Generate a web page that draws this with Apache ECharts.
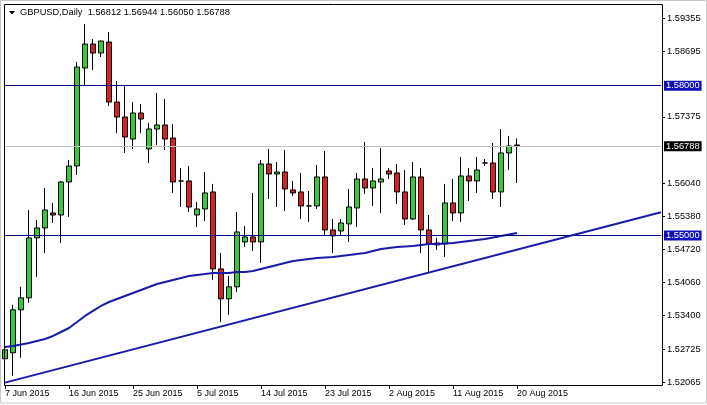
<!DOCTYPE html>
<html>
<head>
<meta charset="utf-8">
<title>GBPUSD Daily</title>
<script src="https://cdn.jsdelivr.net/npm/echarts@6.0.0/dist/echarts.min.js"></script>
<style>
  html, body { margin: 0; padding: 0; background: #ffffff; }
  #main { width: 707px; height: 405px; }
</style>
</head>
<body>
<div id="main"></div>
<script>
// daily bars (broker has sunday sessions)
const dates = [
  '7 Jun 2015', '8 Jun 2015', '9 Jun 2015', '10 Jun 2015', '11 Jun 2015', '12 Jun 2015',
  '14 Jun 2015', '15 Jun 2015', '16 Jun 2015', '17 Jun 2015', '18 Jun 2015', '19 Jun 2015',
  '21 Jun 2015', '22 Jun 2015', '23 Jun 2015', '24 Jun 2015', '25 Jun 2015', '26 Jun 2015',
  '28 Jun 2015', '29 Jun 2015', '30 Jun 2015', '1 Jul 2015', '2 Jul 2015', '3 Jul 2015',
  '5 Jul 2015', '6 Jul 2015', '7 Jul 2015', '8 Jul 2015', '9 Jul 2015', '10 Jul 2015',
  '12 Jul 2015', '13 Jul 2015', '14 Jul 2015', '15 Jul 2015', '16 Jul 2015', '17 Jul 2015',
  '19 Jul 2015', '20 Jul 2015', '21 Jul 2015', '22 Jul 2015', '23 Jul 2015', '24 Jul 2015',
  '26 Jul 2015', '27 Jul 2015', '28 Jul 2015', '29 Jul 2015', '30 Jul 2015', '31 Jul 2015',
  '2 Aug 2015', '3 Aug 2015', '4 Aug 2015', '5 Aug 2015', '6 Aug 2015', '7 Aug 2015',
  '9 Aug 2015', '10 Aug 2015', '11 Aug 2015', '12 Aug 2015', '13 Aug 2015', '14 Aug 2015',
  '16 Aug 2015', '17 Aug 2015', '18 Aug 2015', '19 Aug 2015', '20 Aug 2015'
];

const opens = [
  1.52530, 1.52650, 1.53510, 1.53750, 1.54950, 1.55150, 1.55450, 1.55410, 1.56071, 1.56391,
  1.58354, 1.58834, 1.58654, 1.58874, 1.57672, 1.57372, 1.56932, 1.57452, 1.56732, 1.57132,
  1.57212, 1.56952, 1.56091, 1.56091, 1.55410, 1.55530, 1.55871, 1.54330, 1.53730, 1.53970,
  1.54870, 1.54970, 1.54870, 1.56431, 1.56231, 1.56271, 1.55911, 1.55871, 1.55590, 1.55590,
  1.56171, 1.55110, 1.55090, 1.55230, 1.55550, 1.56131, 1.55951, 1.56071, 1.56291, 1.56251,
  1.55871, 1.55330, 1.56171, 1.55110, 1.54850, 1.54830, 1.55651, 1.55450, 1.56191, 1.56091,
  1.56451, 1.56451, 1.55871, 1.56652, 1.56812
];
const highs = [
  1.52790, 1.53610, 1.53970, 1.55510, 1.55310, 1.55951, 1.55651, 1.56091, 1.56511, 1.58474,
  1.59235, 1.58934, 1.58904, 1.59075, 1.58093, 1.57993, 1.57672, 1.57632, 1.57252, 1.57853,
  1.57733, 1.57232, 1.56351, 1.56391, 1.55671, 1.56271, 1.56031, 1.54650, 1.54190, 1.55470,
  1.55190, 1.55851, 1.56511, 1.56732, 1.56471, 1.56712, 1.56091, 1.56251, 1.55891, 1.56411,
  1.56692, 1.55330, 1.55330, 1.55931, 1.56251, 1.56872, 1.56351, 1.56752, 1.56351, 1.56431,
  1.56311, 1.56471, 1.56351, 1.55410, 1.54950, 1.56031, 1.56131, 1.56571, 1.56351, 1.56571,
  1.56531, 1.56852, 1.57132, 1.56992, 1.56944
];
const lows = [
  1.52490, 1.52190, 1.52550, 1.53650, 1.54170, 1.54650, 1.55250, 1.54850, 1.55370, 1.56211,
  1.58013, 1.58314, 1.58574, 1.57592, 1.57052, 1.56652, 1.56732, 1.57052, 1.56451, 1.56812,
  1.56712, 1.55851, 1.55570, 1.55470, 1.55170, 1.55290, 1.54110, 1.53270, 1.53410, 1.53870,
  1.54770, 1.54690, 1.54450, 1.55731, 1.55570, 1.55490, 1.55791, 1.55330, 1.55270, 1.55530,
  1.54990, 1.54650, 1.54990, 1.54870, 1.55170, 1.55831, 1.55590, 1.55450, 1.56131, 1.55631,
  1.55210, 1.55310, 1.54650, 1.54250, 1.54710, 1.54570, 1.55290, 1.55270, 1.55691, 1.55851,
  1.56391, 1.55731, 1.55570, 1.56311, 1.56050
];
const closes = [
  1.52710, 1.53510, 1.53750, 1.54950, 1.55150, 1.55510, 1.55410, 1.56071, 1.56391, 1.58374,
  1.58834, 1.58654, 1.58894, 1.57672, 1.57372, 1.56972, 1.57452, 1.57332, 1.57132, 1.57212,
  1.56932, 1.56071, 1.56091, 1.55570, 1.55530, 1.55851, 1.54330, 1.53730, 1.53970, 1.55070,
  1.54970, 1.54870, 1.56431, 1.56231, 1.56271, 1.55931, 1.55851, 1.55590, 1.55590, 1.56171,
  1.55110, 1.54990, 1.55250, 1.55570, 1.56131, 1.55951, 1.56091, 1.56131, 1.56231, 1.55871,
  1.55330, 1.56171, 1.55110, 1.54830, 1.54810, 1.55651, 1.55450, 1.56191, 1.56091, 1.56311,
  1.56451, 1.55871, 1.56652, 1.56792, 1.56788
];

// moving average
const movingAvg = [
  1.52766, 1.52786, 1.52816, 1.52846, 1.52886, 1.52926, 1.52986, 1.53066, 1.53146, 1.53266,
  1.53387, 1.53487, 1.53587, 1.53667, 1.53727, 1.53787, 1.53847, 1.53907, 1.53967, 1.54028,
  1.54068, 1.54108, 1.54148, 1.54188, 1.54208, 1.54228, 1.54248, 1.54248, 1.54248, 1.54268,
  1.54268, 1.54288, 1.54328, 1.54368, 1.54408, 1.54448, 1.54488, 1.54508, 1.54528, 1.54548,
  1.54558, 1.54568, 1.54588, 1.54608, 1.54628, 1.54648, 1.54688, 1.54728, 1.54748, 1.54768,
  1.54778, 1.54788, 1.54808, 1.54828, 1.54828, 1.54838, 1.54848, 1.54868, 1.54888, 1.54908,
  1.54928, 1.54958, 1.54988, 1.55018, 1.55048
];

const priceTicks = [1.52065, 1.52725, 1.53400, 1.54060, 1.54720, 1.55380, 1.56040, 1.57375, 1.58695, 1.59355];
const levels = [1.58000, 1.55000];
const trendPoints = [[0, 1.52051], [82, 1.55466]];
const emptySlots = 18; // chart shift on the right

const symbolName = 'GBPUSD';
const periodName = 'Daily';

const fontFamily = 'Liberation Sans, Arial, sans-serif';
const fmt = v => v.toFixed(5);

const last = dates.length - 1;
const categories = dates.concat(new Array(emptySlots).fill(''));
const candles = dates.map((d, i) => [opens[i], closes[i], lows[i], highs[i]]);
const lastPrice = closes[last];
const header = symbolName + ',' + periodName + '  ' + fmt(opens[last]) + ' ' + fmt(highs[last]) + ' ' + fmt(lows[last]) + ' ' + fmt(closes[last]);

const showDate = (idx, val) => val !== '' && idx % 8 === 0;

const levelLine = (value) => ({
  yAxis: value,
  lineStyle: {color: '#000080', width: 1, type: 'solid'},
  label: {
    show: true, position: 'end', distance: 3, formatter: p => fmt(p.value),
    color: '#ffffff', backgroundColor: '#1010b8', padding: [1, 2, 0, 2],
    fontFamily: fontFamily, fontSize: 9.3
  }
});

const chart = echarts.init(document.getElementById('main'));

const option = {
  animation: false,
  backgroundColor: '#ffffff',
  title: {
    text: header, left: 20, top: 8, padding: 0,
    textStyle: {fontFamily: fontFamily, fontSize: 9.3, fontWeight: 'normal', color: '#000000'}
  },
  graphic: [
    {type: 'rect', shape: {x: 0.5, y: 0.5, width: 706, height: 402.5}, style: {fill: null, stroke: '#c8c8c8', lineWidth: 1}, silent: true},
    {type: 'rect', shape: {x: 4.5, y: 4.5, width: 658, height: 381}, style: {fill: null, stroke: '#000000', lineWidth: 1}, silent: true, z: 10},
    {type: 'polygon', shape: {points: [[9, 11], [15, 11], [12, 14.5]]}, style: {fill: '#000000'}, silent: true}
  ],
  grid: {left: 5, right: 46, top: 4, bottom: 20},
  xAxis: {
    type: 'category',
    data: categories,
    boundaryGap: false,
    axisLine: {show: false},
    axisTick: {show: true, interval: showDate, length: 4, lineStyle: {color: '#000000'}},
    axisLabel: {
      interval: showDate, align: 'left', margin: 4,
      fontFamily: fontFamily, fontSize: 9, color: '#000000'
    },
    splitLine: {show: false}
  },
  yAxis: {
    type: 'value',
    position: 'right',
    offset: 1,
    min: 1.52004,
    max: 1.59636,
    scale: true,
    axisLine: {show: false},
    axisTick: {show: true, length: 3, customValues: priceTicks, lineStyle: {color: '#000000'}},
    axisLabel: {
      customValues: priceTicks, formatter: v => fmt(v), margin: 5,
      fontFamily: fontFamily, fontSize: 9.3, color: '#000000'
    },
    splitLine: {show: false}
  },
  series: [
    {
      name: symbolName,
      type: 'candlestick',
      data: candles,
      barWidth: 5,
      z: 2,
      itemStyle: {
        color: '#32cd32',
        color0: '#d42222',
        borderColor: '#000000',
        borderColor0: '#000000',
        borderColorDoji: '#000000',
        borderWidth: 1
      }
    },
    {
      name: 'MA',
      type: 'line',
      data: movingAvg,
      symbol: 'none',
      clip: false,
      z: 3,
      lineStyle: {color: '#1a1aa8', width: 2},
      markLine: {
        silent: true,
        precision: 5,
        symbol: ['none', 'none'],
        animation: false,
        data: [
          levelLine(levels[0]),
          levelLine(levels[1]),
          {
            yAxis: lastPrice,
            lineStyle: {color: '#c0c0c0', width: 1, type: 'solid'},
            label: {
              show: true, position: 'end', distance: 3, formatter: p => fmt(p.value),
              color: '#ffffff', backgroundColor: '#000000', padding: [1, 2, 0, 2],
              fontFamily: fontFamily, fontSize: 9.3
            }
          },
          [
            {coord: trendPoints[0], lineStyle: {color: '#1a1aa8', width: 2, type: 'solid'}, label: {show: false}},
            {coord: trendPoints[1]}
          ]
        ]
      }
    }
  ]
};

chart.setOption(option);
</script>
</body>
</html>
